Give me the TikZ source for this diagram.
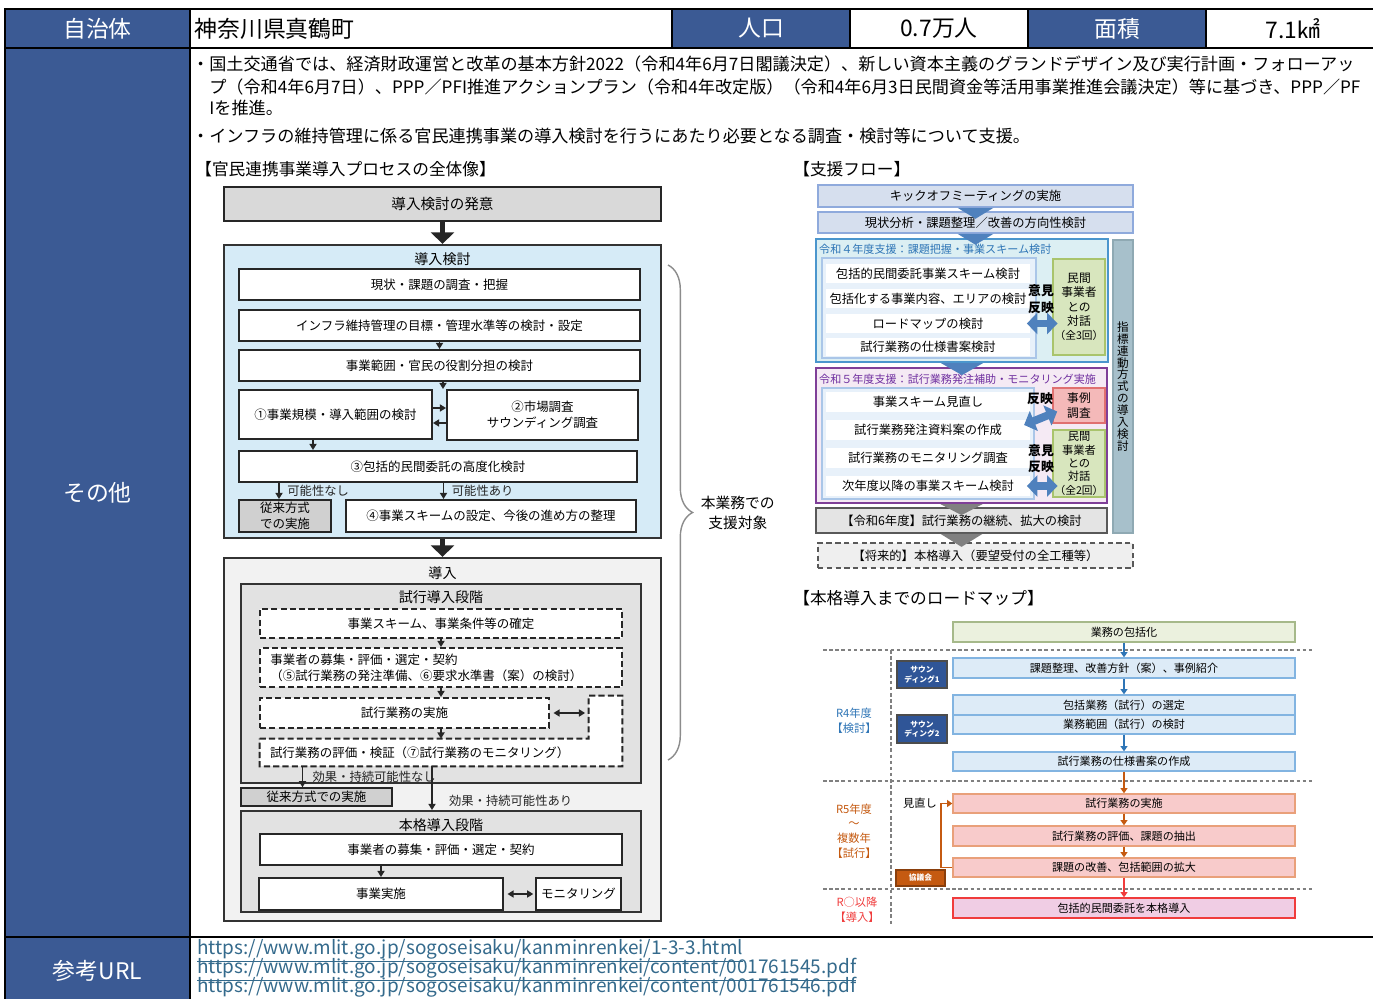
\documentclass[tikz,border=0pt]{standalone}
\usepackage{fontspec}
\setmainfont{Noto Sans CJK JP}
\usetikzlibrary{arrows.meta, positioning, decorations.pathreplacing}

\definecolor{hdrblue}{RGB}{59,90,148}
\definecolor{studyblue}{RGB}{214,235,247}
\definecolor{introgray}{RGB}{242,242,242}
\definecolor{stagegray}{RGB}{226,226,226}
\definecolor{startgray}{RGB}{217,217,217}
\definecolor{legacygray}{RGB}{208,208,208}
\definecolor{linkteal}{RGB}{52,106,140}
\definecolor{flowblue}{RGB}{79,129,189}
\definecolor{kickfill}{RGB}{214,223,238}
\definecolor{kickline}{RGB}{143,170,220}
\definecolor{rfourline}{RGB}{75,150,205}
\definecolor{rfourfill}{RGB}{220,239,243}
\definecolor{rfourtext}{RGB}{46,117,182}
\definecolor{innerline}{RGB}{170,198,232}
\definecolor{innerfill}{RGB}{232,241,250}
\definecolor{dlgfill}{RGB}{216,230,190}
\definecolor{dlgline}{RGB}{169,196,108}
\definecolor{rfiveline}{RGB}{127,63,152}
\definecolor{rfivefill}{RGB}{245,234,244}
\definecolor{rfivetext}{RGB}{112,48,160}
\definecolor{casefill}{RGB}{244,185,185}
\definecolor{caseline}{RGB}{224,112,112}
\definecolor{sixfill}{RGB}{228,228,228}
\definecolor{futurefill}{RGB}{239,239,239}
\definecolor{barfill}{RGB}{167,192,203}
\definecolor{barline}{RGB}{143,169,179}
\definecolor{mapgreen}{RGB}{235,241,222}
\definecolor{mapgreenline}{RGB}{166,185,138}
\definecolor{mapblue}{RGB}{221,235,247}
\definecolor{mapblueline}{RGB}{130,180,225}
\definecolor{mapnavy}{RGB}{47,85,151}
\definecolor{mappink}{RGB}{248,203,203}
\definecolor{mappinkline}{RGB}{233,160,122}
\definecolor{mapfinal}{RGB}{240,205,228}
\definecolor{mapred}{RGB}{240,60,60}
\definecolor{maporange}{RGB}{197,90,17}
\definecolor{maptext}{RGB}{46,117,182}

\newcommand{\fsbig}{\fontsize{13pt}{15pt}\selectfont}
\newcommand{\fstext}{\fontsize{9.75pt}{12pt}\selectfont}
\newcommand{\fshead}{\fontsize{9.5pt}{11pt}\selectfont}
\newcommand{\fsproc}{\fontsize{7.1pt}{9pt}\selectfont}
\newcommand{\fstitle}{\fontsize{8pt}{9pt}\selectfont}
\newcommand{\fsnote}{\fontsize{7pt}{8pt}\selectfont}
\newcommand{\fsbrace}{\fontsize{8.4pt}{11.3pt}\selectfont}
\newcommand{\fsflow}{\fontsize{7pt}{8.4pt}\selectfont}
\newcommand{\fsflowti}{\fontsize{6.3pt}{7.5pt}\selectfont}
\newcommand{\fsdlg}{\fontsize{6.7pt}{8.2pt}\selectfont}
\newcommand{\fsdlgs}{\fontsize{6.4pt}{7.65pt}\selectfont}
\newcommand{\fsopinion}{\fontsize{7.3pt}{10pt}\selectfont\bfseries}
\newcommand{\fsbar}{\fontsize{6.6pt}{6.8pt}\selectfont}
\newcommand{\fsmap}{\fontsize{6.3pt}{7.5pt}\selectfont}
\newcommand{\fssound}{\fontsize{4.4pt}{5.4pt}\selectfont}
\newcommand{\fsyear}{\fontsize{6.4pt}{8.3pt}\selectfont}
\newcommand{\fsurl}{\fontsize{10.8pt}{12pt}\selectfont}

\tikzset{
    corners/.style args={#1/#2/#3/#4}{at={({(#1+#3)/2},{(#2+#4)/2})}, minimum width={(#3-#1)*0.02cm}, minimum height={(#4-#2)*0.02cm}},
    cellhead/.style={draw=black, line width=1.2pt, fill=hdrblue, text=white, inner sep=0pt, font=\fsbig},
    cellval/.style={draw=black, line width=1.2pt, fill=white, inner sep=0pt, font=\fsbig},
    aimline/.style={anchor=west, inner sep=0pt, font=\fstext},
    section/.style={anchor=west, inner sep=0pt, font=\fshead},
    stagebox/.style={draw=black!80, line width=1.3pt, inner sep=0pt},
    stagetitle/.style={anchor=north, inner sep=0pt, font=\fstitle},
    procbox/.style={draw=black!85, line width=1.1pt, fill=white, inner sep=0pt, align=center, font=\fsproc},
    trialbox/.style={draw=black!85, line width=1.1pt, dash pattern=on 3.5pt off 1.8pt, fill=white, inner sep=0pt, font=\fsproc},
    trialline/.style={draw=black!85, line width=1.1pt, dash pattern=on 3.5pt off 1.8pt},
    bigarrow/.style={-{Triangle[width=13pt,length=6.5pt]}, line width=3.2pt, black!85},
    arrow/.style={-{Triangle[width=4pt,length=3.5pt]}, line width=0.9pt, black!85},
    dblarrow/.style={{Triangle[width=4pt,length=3.5pt]}-{Triangle[width=4pt,length=3.5pt]}, line width=0.9pt, black!85},
    flowbox/.style={draw=kickline, line width=0.9pt, fill=kickfill, inner sep=0pt, font=\fsflow},
    flowframe/.style={draw=innerline, line width=1pt, fill=innerfill, inner sep=0pt},
    flowitem/.style={fill=white, inner sep=0pt, font=\fsflow},
    flowtitle/.style={anchor=north west, inner sep=0pt, xshift=0.08cm, font=\fsflowti},
    dlgbox/.style={draw=dlgline, line width=0.8pt, fill=dlgfill, inner sep=0pt, align=center},
    opinion/.style={inner sep=0pt, align=center, font=\fsopinion},
    fatarrow/.style={{Triangle[width=12pt,length=6pt]}-{Triangle[width=12pt,length=6pt]}, line width=4.5pt, flowblue, shorten <=-2pt, shorten >=-3pt},
    mapbox/.style={draw=mapblueline, line width=0.8pt, fill=mapblue, inner sep=0pt, font=\fsmap},
    trialmap/.style={mapbox, draw=mappinkline, fill=mappink},
    sounding/.style={draw=black!70, line width=0.8pt, fill=mapnavy, text=white, inner sep=0pt, align=center, font=\fssound\bfseries},
    yearlabel/.style={inner sep=0pt, align=center, font=\fsyear},
    maparrow/.style={-{Triangle[width=4pt,length=3pt]}, line width=1pt, maptext},
    sepline/.style={gray, line width=0.7pt, dash pattern=on 2pt off 1.5pt},
    urlline/.style={anchor=west, inner sep=0pt, font=\fsurl, text=linkteal},
}

\begin{document}
\begin{tikzpicture}[x=0.02cm, y=-0.02cm, font=\fsproc]
\useasboundingbox (0,0) rectangle (1373,999);

% table
\node[cellhead, corners=5/9/190/48] (munihead) {自治体};
\node[cellval, corners=190/9/672/48, label={[anchor=west, inner sep=3pt, font=\fsbig]west:神奈川県真鶴町}] (muni) {};
\node[cellhead, corners=672/9/850/48] (pophead) {人口};
\node[cellval, corners=850/9/1028/48] (pop) {0.7万人};
\node[cellhead, corners=1028/9/1206/48] (areahead) {面積};
\node[cellval, corners=1206/9/1380/48] (area) {7.1㎢};
\node[cellhead, corners=5/48/190/937] (otherhead) {その他};
\node[cellval, corners=190/48/1380/937] (other) {};
\node[cellhead, corners=5/937/190/1005] (urlhead) {参考URL};
\node[cellval, corners=190/937/1380/1005] (urlcell) {};

\node[aimline] (aimone) at (209,64) {\makebox[0pt][r]{・}国土交通省では、経済財政運営と改革の基本方針2022（令和4年6月7日閣議決定）、新しい資本主義のグランドデザイン及び実行計画・フォローアッ};
\node[aimline] (aimtwo) at (209,87) {プ（令和4年6月7日）、PPP／PFI推進アクションプラン（令和4年改定版）（令和4年6月3日民間資金等活用事業推進会議決定）等に基づき、PPP／PF};
\node[aimline] (aimthree) at (209,108) {Iを推進。};
\node[aimline] (aimfour) at (209,136) {\makebox[0pt][r]{・}インフラの維持管理に係る官民連携事業の導入検討を行うにあたり必要となる調査・検討等について支援。};

% process overview
\node[section] (overview) at (195,169) {【官民連携事業導入プロセスの全体像】};
\node[procbox, fill=startgray, corners=224/187/661/221, font=\fontsize{8.3pt}{9pt}\selectfont] (origin) {導入検討の発意};
\node[stagebox, fill=studyblue, corners=224/245/661/538, label={[stagetitle, yshift=-0.16cm]north:導入検討}] (study) {};
\node[procbox, corners=239/269/640/300] (survey) {現状・課題の調査・把握};
\node[procbox, corners=239/310/640/341] (goal) {インフラ維持管理の目標・管理水準等の検討・設定};
\node[procbox, corners=239/350/640/381] (role) {事業範囲・官民の役割分担の検討};
\node[procbox, corners=239/390/432/439] (scale) {①事業規模・導入範囲の検討};
\node[procbox, corners=447/390/638/440] (market) {②市場調査\\サウンディング調査};
\node[procbox, corners=239/451/637/482] (advance) {③包括的民間委託の高度化検討};
\node[procbox, fill=legacygray, corners=239/500/331/532] (legacy) {従来方式\\での実施};
\node[procbox, corners=346/500/636/532] (scheme) {④事業スキームの設定、今後の進め方の整理};
\draw[bigarrow] (origin) -- (study);
\draw[arrow] (goal) -- (role);
\draw[arrow] ([xshift=0.07cm]role.south) -- ([xshift=0.07cm]role.south |- scale.north);
\draw[arrow] ([yshift=0.13cm]scale.east) -- ([yshift=0.13cm]scale.east -| market.west);
\draw[arrow] ([yshift=-0.17cm]scale.east -| market.west) -- ([yshift=-0.17cm]scale.east);
\draw[arrow] ([xshift=-0.45cm]scale.south) -- ([xshift=-0.45cm]scale.south |- advance.north);
\draw[arrow] ([xshift=-0.12cm]legacy.north |- advance.south) -- ([xshift=-0.12cm]legacy.north) node[midway, right=1pt, font=\fsnote] {可能性なし};
\draw[arrow] ([xshift=-0.95cm]scheme.north |- advance.south) -- ([xshift=-0.95cm]scheme.north) node[midway, right=1pt, font=\fsnote] {可能性あり};

\node[stagebox, fill=introgray, corners=224/558/661/921, label={[stagetitle, yshift=-0.18cm]north:導入}] (intro) {};
\draw[bigarrow] (study) -- (intro);
\node[stagebox, fill=stagegray, line width=1.1pt, corners=241/584/641/783, label={[stagetitle, yshift=-0.15cm]north:試行導入段階}] (trial) {};
\node[trialbox, corners=260/609/622/638] (fix) {事業スキーム、事業条件等の確定};
\node[trialbox, corners=260/648/622/687, label={[anchor=west, align=left, inner sep=0pt, xshift=0.22cm, font=\fsproc]west:事業者の募集・評価・選定・契約\\（⑤試行業務の発注準備、⑥要求水準書（案）の検討）}] (recruit) {};
\node[trialbox, corners=260/698/549/728] (impl) {試行業務の実施};
\node[fill=white, inner sep=0pt, corners=589/696/622/739] (side) {};
\node[fill=white, inner sep=0pt, corners=260/739/622/766, label={[anchor=west, inner sep=0pt, xshift=0.2cm, font=\fsproc]west:試行業務の評価・検証（⑦試行業務のモニタリング）}] (eval) {};
\draw[trialline] (eval.north west) -- (eval.north west -| side.west) -- (side.north west) -- (side.north east) -- (eval.south east) -- (eval.south west) -- cycle;
\draw[arrow] (fix) -- (recruit);
\draw[arrow] (recruit.south) -- (recruit.south |- impl.north);
\draw[arrow] (recruit.south |- impl.south) -- (recruit.south |- eval.north);
\draw[dblarrow, shorten <=2pt, shorten >=2pt] (impl.east) -- (impl.east -| side.west);
\node[procbox, fill=legacygray, line width=0.8pt, corners=241/788/392/806] (legacytwo) {従来方式での実施};
\node[stagebox, fill=stagegray, line width=1.1pt, corners=241/811/641/912, label={[stagetitle, yshift=-0.16cm]north:本格導入段階}] (full) {};
\draw[arrow] ([xshift=-0.28cm]legacytwo.north |- eval.south) -- ([xshift=-0.28cm]legacytwo.north) node[midway, right=2pt, font=\fsnote] {効果・持続可能性なし};
\draw[arrow] ([xshift=-0.18cm]eval.south) -- ([xshift=-0.18cm]eval.south |- full.north) node[pos=0.78, right=6pt, font=\fsnote] {効果・持続可能性あり};
\node[procbox, corners=260/834/622/865] (contract) {事業者の募集・評価・選定・契約};
\node[procbox, corners=259/878/503/910] (exec) {事業実施};
\node[procbox, corners=536/878/621/910] (monitor) {モニタリング};
\draw[arrow] (exec.north |- contract.south) -- (exec.north);
\draw[dblarrow, shorten <=2pt, shorten >=1pt] (exec) -- (monitor);
\draw[black!45, line width=0.8pt, decorate, decoration={brace, amplitude=14pt}] (668,265) -- (668,760) node[midway, right=15pt, align=center, font=\fsbrace, text=black] (target) {本業務での\\支援対象};

% support flow
\node[section] (flowhead) at (793,169) {【支援フロー】};
\node[flowbox, corners=818/185/1133/207] (kick) {キックオフミーティングの実施};
\node[flowbox, corners=818/212/1133/233] (analysis) {現状分析・課題整理／改善の方向性検討};
\node[draw=rfourline, line width=1.3pt, fill=rfourfill, inner sep=0pt, corners=816/239/1108/362, label={[flowtitle, yshift=-0.11cm, text=rfourtext]north west:令和４年度支援：課題把握・事業スキーム検討}] (rfour) {};
\node[flowframe, corners=822/258/1036/358] (rfourin) {};
\node[flowitem, corners=826/264/1030/283] (rfoura) {包括的民間委託事業スキーム検討};
\node[flowitem, corners=826/289/1030/308] (rfourb) {包括化する事業内容、エリアの検討};
\node[flowitem, corners=826/314/1030/333] (rfourc) {ロードマップの検討};
\node[flowitem, corners=826/338/1030/356] (rfourd) {試行業務の仕様書案検討};
\node[dlgbox, corners=1053/259/1105/355, font=\fsdlg] (dlgthree) {民間\\事業者\\との\\対話\\{\fontsize{6.1pt}{8.2pt}\selectfont （全3回）}};
\node[opinion] (opinionone) at (1041,299) {意見\\反映};
\draw[fatarrow] (rfourc.east) -- (rfourc.east -| dlgthree.west);

\node[draw=rfiveline, line width=1.3pt, fill=rfivefill, inner sep=0pt, corners=816/368/1107/503, label={[flowtitle, yshift=-0.13cm, text=rfivetext]north west:令和５年度支援：試行業務発注補助・モニタリング実施}] (rfive) {};
\node[flowframe, corners=822/388/1034/499] (rfivein) {};
\node[flowitem, corners=826/392/1030/412] (rfivea) {事業スキーム見直し};
\node[flowitem, corners=826/420/1030/440] (rfiveb) {試行業務発注資料案の作成};
\node[flowitem, corners=826/448/1030/468] (rfivec) {試行業務のモニタリング調査};
\node[flowitem, corners=826/476/1030/496] (rfived) {次年度以降の事業スキーム検討};
\node[draw=caseline, line width=0.8pt, fill=casefill, inner sep=0pt, align=center, corners=1053/388/1105/423, font=\fsdlg] (casestudy) {事例\\調査};
\node[dlgbox, corners=1053/430/1105/497, font=\fsdlgs] (dlgtwo) {民間\\事業者\\との\\対話\\{\fontsize{6.1pt}{7.65pt}\selectfont （全2回）}};
\node[opinion] (opiniontwo) at (1040,399) {反映};
\node[opinion, font=\fontsize{7.3pt}{9pt}\selectfont\bfseries] (opinionthree) at (1041,459) {意見\\反映};
\draw[fatarrow] ([xshift=-0.06cm, yshift=-0.08cm]rfiveb.north east) -- ([yshift=-0.16cm]casestudy.west);
\draw[fatarrow] (rfived.east) -- (rfived.east -| dlgtwo.west);

\node[draw=black!65, line width=1pt, fill=sixfill, inner sep=0pt, corners=816/508/1107/533, font=\fsflow] (rsix) {【令和6年度】試行業務の継続、拡大の検討};
\node[draw=black!65, line width=0.9pt, dash pattern=on 3pt off 2pt, fill=futurefill, inner sep=0pt, corners=818/543/1133/568, font=\fsflow] (future) {【将来的】本格導入（要望受付の全工種等）};
\node[draw=barline, line width=0.6pt, fill=barfill, inner sep=0pt, align=center, corners=1113/240/1133/533, font=\fsbar] (indexbar) {指\\標\\連\\動\\方\\式\\の\\導\\入\\検\\討};
\fill[flowblue] ([xshift=-0.36cm]kick.south) -- ([xshift=0.36cm]kick.south) -- ([yshift=-0.22cm]kick.south) -- cycle;
\fill[flowblue] ([xshift=-0.36cm]analysis.south) -- ([xshift=0.36cm]analysis.south) -- ([yshift=-0.22cm]analysis.south) -- cycle;
\fill[flowblue] ([xshift=-0.42cm]rfour.south) -- ([xshift=0.42cm]rfour.south) -- ([yshift=-0.24cm]rfour.south) -- cycle;
\fill[black!50] ([xshift=-0.42cm]rfive.south) -- ([xshift=0.42cm]rfive.south) -- ([yshift=-0.22cm]rfive.south) -- cycle;
\fill[black!50] ([xshift=-0.42cm]rsix.south) -- ([xshift=0.42cm]rsix.south) -- ([yshift=-0.26cm]rsix.south) -- cycle;

% roadmap
\node[section] (maphead) at (793,598) {【本格導入までのロードマップ】};
\node[mapbox, draw=mapgreenline, fill=mapgreen, corners=953/622/1295/642] (bundle) {業務の包括化};
\draw[sepline] (823,650) -- (1313,650);
\draw[sepline] (823,781) -- (1313,781);
\draw[sepline] (823,889) -- (1313,889);
\draw[sepline] (891,650) -- (891,925);
\node[mapbox, corners=953/658/1295/678] (issue) {課題整理、改善方針（案）、事例紹介};
\node[mapbox, corners=953/695/1295/715] (select) {包括業務（試行）の選定};
\node[mapbox, corners=953/715/1295/734] (range) {業務範囲（試行）の検討};
\node[mapbox, corners=953/752/1295/771] (spec) {試行業務の仕様書案の作成};
\node[trialmap, corners=953/794/1295/813] (trialrun) {試行業務の実施};
\node[trialmap, corners=953/826/1295/846] (assess) {試行業務の評価、課題の抽出};
\node[trialmap, corners=953/858/1295/877] (improve) {課題の改善、包括範囲の拡大};
\node[mapbox, draw=mapred, fill=mapfinal, corners=953/898/1295/918] (adopt) {包括的民間委託を本格導入};
\node[sounding, corners=897/661/947/688] (soundone) {サウン\\ディング1};
\node[sounding, corners=897/715/947/743] (soundtwo) {サウン\\ディング2};
\node[sounding, draw=maporange!70!black, fill=maporange, corners=896/870/945/886] (council) {協議会};
\node[yearlabel, text=maptext] (rfouryear) at (854,721) {R4年度\\【検討】};
\node[yearlabel, text=maporange] (rfiveyear) at (854,831) {R5年度\\～\\複数年\\【試行】};
\node[yearlabel, text=mapred] (adoptyear) at (857,910) {R○以降\\【導入】};
\node[inner sep=0pt, font=\fsyear] (redo) at (920,803) {見直し};
\draw[maparrow] (bundle) -- (issue);
\draw[maparrow] (issue) -- (select);
\draw[maparrow] (range) -- (spec);
\draw[maparrow, maporange] (spec) -- (trialrun);
\draw[maparrow, maporange] (trialrun) -- (assess);
\draw[maparrow, maporange] (assess) -- (improve);
\draw[maparrow, mapred] (improve) -- (adopt);
\draw[maparrow, maporange] (improve.west) -- ++(-0.22cm,0) |- (trialrun.west);

% reference urls
\node[urlline] (urlone) at (197,951) {\underline{https://www.mlit.go.jp/sogoseisaku/kanminrenkei/1-3-3.html}};
\node[urlline] (urltwo) at (197,970) {\underline{https://www.mlit.go.jp/sogoseisaku/kanminrenkei/content/001761545.pdf}};
\node[urlline] (urlthree) at (197,989) {\underline{https://www.mlit.go.jp/sogoseisaku/kanminrenkei/content/001761546.pdf}};
\end{tikzpicture}
\end{document}
